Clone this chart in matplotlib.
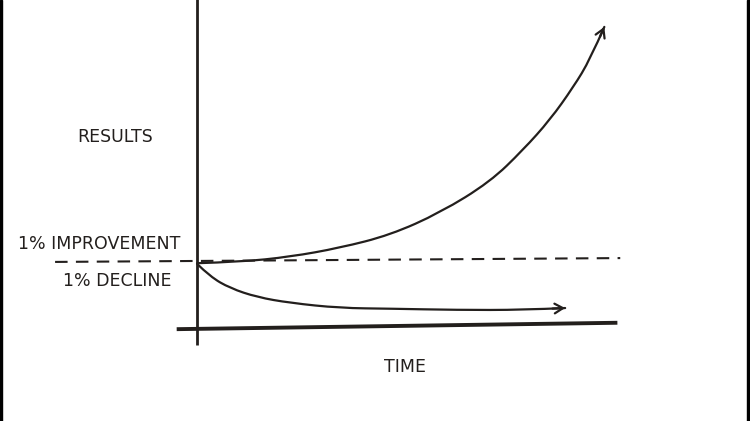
import matplotlib
matplotlib.use("Agg")
import matplotlib.pyplot as plt
from matplotlib.patches import Rectangle, PathPatch
from matplotlib.path import Path

# Hand-drawn "1% better / 1% worse" sketch
time_up = [0, 1.05, 2.28, 3.50, 4.73, 5.96, 7.18, 7.99, 8.65, 9.22, 9.63, 9.98]
results_up = [0.98, 1.0, 1.08, 1.22, 1.42, 1.77, 2.25, 2.75, 3.22, 3.73, 4.16, 4.67]

time_down = [0, 0.32, 0.81, 1.47, 2.28, 3.50, 4.73, 6.37, 7.99, 9.02]
results_down = [0.97, 0.77, 0.59, 0.45, 0.36, 0.28, 0.27, 0.25, 0.25, 0.28]

baseline_x = [-3.48, 10.37]
baseline_y = [1.0, 1.06]

x_axis_x = [-0.5, 10.3]
x_axis_y = [-0.05, 0.05]
y_axis_x = [0, 0]
y_axis_y = [-0.30, 5.2]

labels = {
    "results": "RESULTS",
    "improve": "1% IMPROVEMENT",
    "decline": "1% DECLINE",
    "time": "TIME",
}

ink = "#231f1d"
plt.rcParams["font.family"] = ["DejaVu Sans"]


def smooth_path(xs, ys):
    # quadratic bezier through midpoints, read points act as control points
    pts = list(zip(xs, ys))
    verts = [pts[0]]
    codes = [Path.MOVETO]
    for i in range(1, len(pts) - 1):
        mid = ((pts[i][0] + pts[i + 1][0]) / 2, (pts[i][1] + pts[i + 1][1]) / 2)
        if i == len(pts) - 2:
            mid = pts[-1]
        verts += [pts[i], mid]
        codes += [Path.CURVE3, Path.CURVE3]
    return Path(verts, codes)


fig = plt.figure(figsize=(7.5, 4.21), dpi=100)
ax = fig.add_axes([0, 0, 1, 1])
ax.set_xlim(-4.83, 13.55)
ax.set_ylim(-1.484, 5.09)
ax.axis("off")

# axes drawn by hand
ax.plot(x_axis_x, x_axis_y, color=ink, lw=2.8, solid_capstyle="butt")
ax.plot(y_axis_x, y_axis_y, color=ink, lw=2.0, solid_capstyle="butt")

# starting level
ax.plot(baseline_x, baseline_y, color=ink, lw=1.5, dashes=(6, 4))

# curves with open arrowheads
for xs, ys in [(time_up, results_up), (time_down, results_down)]:
    ax.add_patch(PathPatch(smooth_path(xs, ys), fill=False, edgecolor=ink, lw=1.6,
                           capstyle="round"))
    ax.annotate("", xy=(xs[-1], ys[-1]),
                xytext=(xs[-1] - (xs[-1] - xs[-2]) * 0.3, ys[-1] - (ys[-1] - ys[-2]) * 0.3),
                arrowprops=dict(arrowstyle="->,head_length=0.6,head_width=0.35", color=ink,
                                lw=1.6, shrinkA=0, shrinkB=0))

# hand lettering
txt = dict(color=ink, fontsize=12.5, ha="center", va="center")
ax.text(-2.01, 2.95, labels["results"], **txt)
ax.text(-2.40, 1.28, labels["improve"], **txt)
ax.text(-1.96, 0.70, labels["decline"], **txt)
ax.text(5.10, -0.64, labels["time"], **txt)

# dark strips at the left and right edges of the scan
fig.patches.append(Rectangle((0, 0), 0.003, 1, transform=fig.transFigure, color="black"))
fig.patches.append(Rectangle((0.996, 0), 0.004, 1, transform=fig.transFigure, color="black"))

fig.savefig("out.png", dpi=100)
